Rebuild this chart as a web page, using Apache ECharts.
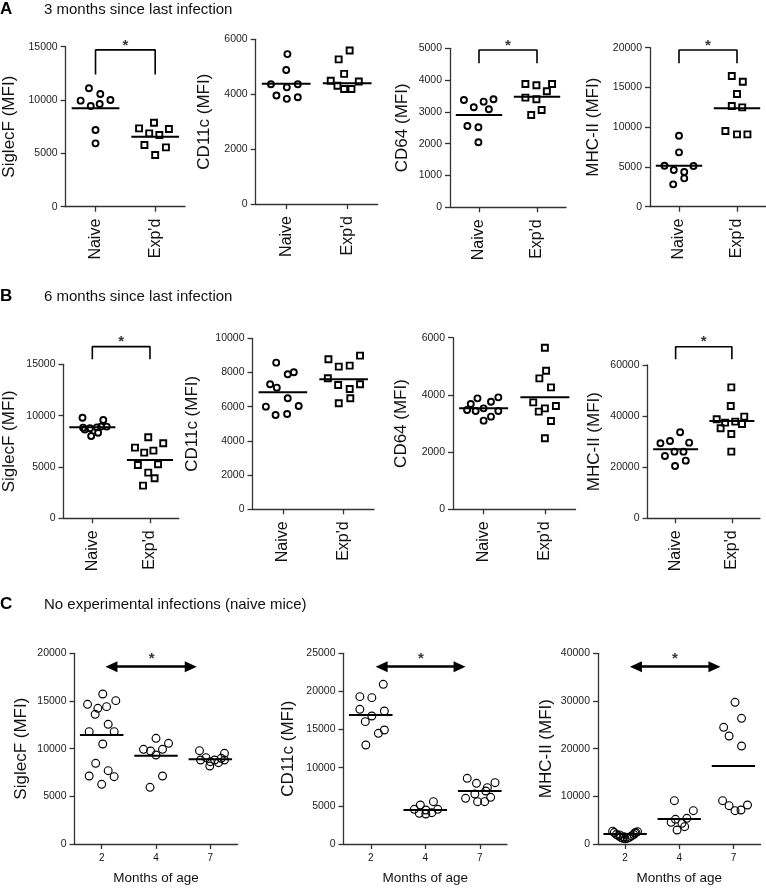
<!DOCTYPE html>
<html><head><meta charset="utf-8">
<script src="https://cdn.jsdelivr.net/npm/echarts@6/dist/echarts.min.js"></script>
<style>html,body{margin:0;padding:0;background:#fff}#c{width:766px;height:893px}</style>
</head><body><div id="c"></div>
<script>
const FONT = '"Liberation Sans", Arial, sans-serif';

// ---------- categories ----------
const catsAB = ["Naive", "Exp'd"];
const catsC = ["2", "4", "7"];

// ---------- panel A: 3 months since last infection ----------
const A1_naive = [11100, 10560, 9940, 10000, 9440, 9625, 7190, 5940];
const A1_naive_x = [-0.11, 0.08, -0.25, 0.25, -0.08, 0.07, 0, 0];
const A1_exp = [7340, 7875, 7280, 6875, 6720, 5780, 5560, 4840];
const A1_exp_x = [-0.27, -0.02, 0.23, -0.10, 0.07, -0.18, 0.18, 0];
const A1_means = [9220, 6560];

const A2_naive = [5460, 4880, 4360, 4250, 4360, 3950, 3830, 3890];
const A2_naive_x = [0.02, 0, -0.25, 0.01, 0.19, -0.16, 0.01, 0.19];
const A2_exp = [5590, 5270, 4740, 4490, 4460, 4310, 4190, 4190];
const A2_exp_x = [0.04, -0.14, -0.05, -0.27, 0.19, -0.16, -0.05, 0.07];
const A2_means = [4385, 4397];

const A3_naive = [3375, 3145, 3323, 3396, 3082, 2558, 2516, 2044];
const A3_naive_x = [-0.26, -0.09, 0.08, 0.25, 0.17, -0.2, -0.01, -0.01];
const A3_exp = [3878, 3836, 3878, 3648, 3449, 3396, 3061, 2904];
const A3_exp_x = [-0.2, -0.01, 0.26, 0.17, -0.2, -0.01, 0.08, -0.1];
const A3_means = [2904, 3480];

const A4_naive = [8930, 6834, 5157, 5115, 4612, 4361, 3564, 2809];
const A4_naive_x = [0, 0, -0.25, 0.25, -0.09, 0.09, 0.09, -0.1];
const A4_exp = [16436, 15723, 14172, 12662, 12495, 9518, 9099, 9099];
const A4_exp_x = [-0.09, 0.1, 0, -0.09, 0.09, -0.2, 0, 0.18];
const A4_means = [5157, 12369];

// ---------- panel B: 6 months since last infection ----------
const B1_naive = [9800, 9580, 8830, 8770, 8860, 8930, 8930, 8020, 8340, 8650];
const B1_naive_x = [-0.17, 0.19, -0.16, -0.04, 0.08, 0.15, 0.25, -0.02, 0.1, -0.13];
const B1_exp = [7890, 6883, 7305, 6396, 6591, 5195, 5260, 4448, 3896, 3182];
const B1_exp_x = [-0.03, -0.26, 0.23, -0.1, 0.06, -0.21, 0.14, -0.03, 0.08, -0.12];
const B1_means = [8864, 5682];

const B2_naive = [8577, 8012, 7895, 7310, 7115, 6491, 6004, 6043, 5517, 5575];
const B2_naive_x = [-0.11, 0.18, 0.08, -0.21, -0.1, 0.08, -0.28, 0.26, -0.12, 0.07];
const B2_exp = [8986, 8772, 8343, 8402, 7661, 7271, 7310, 7037, 6491, 6199];
const B2_exp_x = [0.27, -0.25, -0.08, 0.1, -0.26, -0.09, 0.27, 0.1, 0.11, -0.08];
const B2_means = [6842, 7602];

const B3_naive = [3880, 3915, 3681, 3763, 3472, 3437, 3530, 3437, 3099, 3239];
const B3_naive_x = [-0.1, 0.24, -0.21, 0.12, -0.27, -0.13, 0, 0.24, 0, 0.12];
const B3_exp = [5651, 4847, 4579, 4264, 3740, 3612, 3530, 3414, 3088, 2482];
const B3_exp_x = [0, 0.02, -0.09, 0.1, -0.19, 0.18, 0, -0.1, 0.1, 0];
const B3_means = [3530, 3915];

const B4_naive = [33650, 29350, 30260, 29610, 24390, 26090, 26090, 22570, 20480];
const B4_naive_x = [0.08, -0.27, -0.1, 0.24, -0.19, -0.02, 0.14, 0.18, -0.01];
const B4_exp = [51260, 43960, 38740, 37430, 37830, 39780, 36910, 35220, 33000, 26090];
const B4_exp_x = [-0.01, -0.02, -0.27, -0.12, 0.06, 0.22, 0.18, -0.2, -0.01, -0.01];
const B4_means = [27000, 38090];

// ---------- panel C: naive mice by age ----------
const C1_m2 = [15734, 14650, 15035, 14231, 14406, 13601, 12552, 11783, 11783, 10490, 8462, 7692, 7133, 7063, 6259];
const C1_m2_x = [0.02, -0.26, 0.26, -0.07, 0.09, -0.12, 0.12, -0.23, 0.23, 0.02, -0.11, 0.12, -0.23, 0.23, 0];
const C1_m4 = [11084, 10559, 9930, 9755, 9930, 9336, 7133, 5944];
const C1_m4_x = [0, 0.23, -0.23, -0.1, 0.12, 0, 0.12, -0.11];
const C1_m7 = [9790, 9510, 9056, 8811, 8811, 8986, 8811, 8531, 8636, 8182];
const C1_m7_x = [-0.2, 0.26, -0.08, -0.18, 0.08, 0.2, 0.26, 0.15, 0, -0.01];
const C1_means = [11434, 9266, 8881];

const C2_m2 = [20935, 19318, 19187, 17657, 17439, 16783, 16040, 14510, 14948, 12981];
const C2_m2_x = [0.23, -0.2, 0.02, -0.2, 0.25, 0.02, -0.1, 0.14, 0.25, -0.09];
const C2_m4 = [5551, 5114, 4545, 4545, 4458, 4021, 3934, 4108];
const C2_m4_x = [0.15, -0.09, -0.2, 0.23, 0.01, -0.11, 0.01, 0.12];
const C2_m7 = [8610, 7955, 8042, 7386, 6556, 5988, 6119, 5551, 5551, 6949];
const C2_m7_x = [-0.23, -0.06, 0.28, 0.14, -0.09, -0.26, 0.2, -0.04, 0.09, 0.11];
const C2_means = [16914, 4458, 6949];

const C3_m2 = [2700, 2400, 2000, 1700, 1400, 1200, 1100, 1200, 1400, 1700, 2000, 2400, 2600, 1500, 1900, 2300];
const C3_m2_x = [-0.23, -0.2, -0.16, -0.12, -0.08, -0.04, 0, 0.04, 0.08, 0.12, 0.16, 0.2, 0.23, -0.02, -0.1, 0.18];
const C3_m4 = [9091, 6993, 5175, 5385, 4545, 4336, 3636, 2937];
const C3_m4_x = [-0.09, 0.26, -0.07, 0.14, -0.15, 0.05, 0.1, -0.04];
const C3_m7 = [29720, 26364, 24476, 22657, 20559, 9091, 8042, 6993, 7133, 8182];
const C3_m7_x = [0.03, 0.15, -0.18, -0.08, 0.15, -0.2, -0.08, 0.03, 0.14, 0.26];
const C3_means = [2098, 5245, 16364];

// ---------- y axes (name, max, interval) ----------
const yNames = ["SiglecF (MFI)", "CD11c (MFI)", "CD64 (MFI)", "MHC-II (MFI)"];
const yMaxA = [15000, 6000, 5000, 20000];
const yIntA = [5000, 2000, 1000, 5000];
const yMaxB = [15000, 10000, 6000, 60000];
const yIntB = [5000, 2000, 2000, 20000];
const yMaxC = [20000, 25000, 40000];
const yIntC = [5000, 5000, 10000];

// ---------- significance marks (data units) ----------
// brackets: [bottom, top, star]
const A1_sig = [12400, 14700, 15470];
const A3_sig = [4528, 4948, 5210];
const A4_sig = [18029, 19706, 20750];
const B1_sig = [15490, 16720, 17530];
const B4_sig = [62220, 67170, 70430];
// arrows: [xFrom, xTo, y, starX, starY]
const C1_sig = [0.18, 1.64, 18600, 0.92, 19820];
const C2_sig = [0.2, 1.63, 23245, 0.92, 24775];
const C3_sig = [0.2, 1.65, 37190, 0.92, 39640];

// ---------- titles ----------
const panelLetters = ["A", "B", "C"];
const panelTitles = ["3 months since last infection", "6 months since last infection", "No experimental infections (naive mice)"];
const xNameC = "Months of age";

// ---------- panel assembly ----------
const panels = [
  {key:'A1', cats:catsAB, yName:yNames[0], yMax:yMaxA[0], yInt:yIntA[0], groups:[[A1_naive,A1_naive_x],[A1_exp,A1_exp_x]], means:A1_means, bracket:A1_sig},
  {key:'A2', cats:catsAB, yName:yNames[1], yMax:yMaxA[1], yInt:yIntA[1], groups:[[A2_naive,A2_naive_x],[A2_exp,A2_exp_x]], means:A2_means},
  {key:'A3', cats:catsAB, yName:yNames[2], yMax:yMaxA[2], yInt:yIntA[2], groups:[[A3_naive,A3_naive_x],[A3_exp,A3_exp_x]], means:A3_means, bracket:A3_sig},
  {key:'A4', cats:catsAB, yName:yNames[3], yMax:yMaxA[3], yInt:yIntA[3], groups:[[A4_naive,A4_naive_x],[A4_exp,A4_exp_x]], means:A4_means, bracket:A4_sig},
  {key:'B1', cats:catsAB, yName:yNames[0], yMax:yMaxB[0], yInt:yIntB[0], groups:[[B1_naive,B1_naive_x],[B1_exp,B1_exp_x]], means:B1_means, bracket:B1_sig},
  {key:'B2', cats:catsAB, yName:yNames[1], yMax:yMaxB[1], yInt:yIntB[1], groups:[[B2_naive,B2_naive_x],[B2_exp,B2_exp_x]], means:B2_means},
  {key:'B3', cats:catsAB, yName:yNames[2], yMax:yMaxB[2], yInt:yIntB[2], groups:[[B3_naive,B3_naive_x],[B3_exp,B3_exp_x]], means:B3_means},
  {key:'B4', cats:catsAB, yName:yNames[3], yMax:yMaxB[3], yInt:yIntB[3], groups:[[B4_naive,B4_naive_x],[B4_exp,B4_exp_x]], means:B4_means, bracket:B4_sig},
  {key:'C1', cats:catsC, yName:yNames[0], yMax:yMaxC[0], yInt:yIntC[0], groups:[[C1_m2,C1_m2_x],[C1_m4,C1_m4_x],[C1_m7,C1_m7_x]], means:C1_means, arrow:C1_sig},
  {key:'C2', cats:catsC, yName:yNames[1], yMax:yMaxC[1], yInt:yIntC[1], groups:[[C2_m2,C2_m2_x],[C2_m4,C2_m4_x],[C2_m7,C2_m7_x]], means:C2_means, arrow:C2_sig},
  {key:'C3', cats:catsC, yName:yNames[3], yMax:yMaxC[2], yInt:yIntC[2], groups:[[C3_m2,C3_m2_x],[C3_m4,C3_m4_x],[C3_m7,C3_m7_x]], means:C3_means, arrow:C3_sig}
];

// layout (pixels)
const layout = {
  A1:{left:65.7, top:46.7, width:119.3, height:160, gap:47.5},
  A2:{left:255.7, top:39.3, width:122, height:164.7, gap:42.5},
  A3:{left:450, top:48.3, width:116, height:159, gap:39.5},
  A4:{left:650, top:47.7, width:116, height:159, gap:48.5},
  B1:{left:63.3, top:364.3, width:115.5, height:154, gap:45.5},
  B2:{left:252.5, top:338.3, width:121.5, height:171, gap:51.5},
  B3:{left:453, top:337.7, width:122.5, height:171.6, gap:43.5},
  B4:{left:647.5, top:365, width:112.5, height:153.3, gap:44.5},
  C1:{left:74.5, top:653.3, width:163, height:190.7, gap:44.5},
  C2:{left:343.5, top:653.3, width:163.5, height:190.7, gap:46.5},
  C3:{left:598, top:653.3, width:162.5, height:190.7, gap:43.5}
};

const AX = '#333';
const grid = [], xAxis = [], yAxis = [], series = [];

panels.forEach((p, i) => {
  const L = layout[p.key];
  const isC = p.cats === catsC;
  grid.push({left:L.left, top:L.top, width:L.width, height:L.height});
  xAxis.push({
    type:'category', gridIndex:i, data:p.cats, boundaryGap:true,
    axisLine:{show:true, onZero:false, lineStyle:{color:AX, width:1.3}},
    axisTick:{show:true, alignWithLabel:true, length:5, lineStyle:{color:AX, width:1.3}},
    axisLabel:{interval:0, rotate:isC?0:90, fontSize:isC?10:16, color:'#111', margin:isC?9:12, fontFamily:FONT},
    name:isC?xNameC:'', nameLocation:'middle', nameGap:27,
    nameTextStyle:{fontSize:13.5, color:'#111', fontFamily:FONT},
    splitLine:{show:false}
  });
  xAxis.push({type:'value', gridIndex:i, min:-0.5, max:p.cats.length-0.5, show:false,
    axisLine:{onZero:false}});
  yAxis.push({
    type:'value', gridIndex:i, min:0, max:p.yMax, interval:p.yInt,
    name:p.yName, nameLocation:'middle', nameGap:L.gap,
    nameTextStyle:{fontSize:17, color:'#111', fontFamily:FONT},
    axisLine:{show:true, onZero:false, lineStyle:{color:AX, width:1.3}},
    axisTick:{show:true, length:5, lineStyle:{color:AX, width:1.3}},
    axisLabel:{fontSize:10.5, color:'#222', margin:8, fontFamily:FONT, formatter:(v) => String(v)},
    splitLine:{show:false}
  });
  const xi = 2*i + 1;
  p.groups.forEach(([vals, offs], g) => {
    const shape = (!isC && g === 1) ? 'rect' : 'circle';
    series.push({
      type:'scatter', xAxisIndex:xi, yAxisIndex:i, silent:true, z:3,
      symbol:shape, symbolSize:isC?7.8:6,
      itemStyle:{color:'rgba(255,255,255,0)', borderColor:'#000', borderWidth:isC?1.15:1.9, opacity:1},
      data: vals.map((v, k) => [g + offs[k], v])
    });
    series.push({
      type:'line', xAxisIndex:xi, yAxisIndex:i, silent:true, z:4,
      symbol:'none', showSymbol:false,
      lineStyle:{color:'#000', width:2},
      data:[[g - 0.4, p.means[g]], [g + 0.4, p.means[g]]]
    });
  });
  if (p.bracket) {
    const [lo, hi, st] = p.bracket;
    series.push({
      type:'line', xAxisIndex:xi, yAxisIndex:i, silent:true, clip:false, z:5,
      symbol:'none', showSymbol:false, lineStyle:{color:'#000', width:1.6},
      data:[[0, lo], [0, hi], [1, hi], [1, lo]]
    });
    series.push({
      type:'scatter', xAxisIndex:xi, yAxisIndex:i, silent:true, clip:false, z:5,
      symbolSize:1, itemStyle:{color:'rgba(0,0,0,0)'},
      label:{show:true, position:'inside', formatter:'*', fontSize:15, fontWeight:'bold', color:'#000', offset:[0,4], fontFamily:FONT},
      data:[[0.5, st]]
    });
  }
  if (p.arrow) {
    const [x1, x2, y, sx, sy] = p.arrow;
    series.push({
      type:'scatter', xAxisIndex:xi, yAxisIndex:i, silent:true, clip:false, z:5,
      symbolSize:1, itemStyle:{color:'rgba(0,0,0,0)'},
      label:{show:true, position:'inside', formatter:'*', fontSize:15, fontWeight:'bold', color:'#000', offset:[0,4], fontFamily:FONT},
      data:[[sx, sy]],
      markLine:{
        silent:true, animation:false,
        symbol:['triangle','triangle'], symbolSize:[11, 12],
        lineStyle:{color:'#000', width:2.5, type:'solid'},
        label:{show:false},
        data:[[{coord:[x1, y]}, {coord:[x2, y]}]]
      }
    });
  }
});

const titleTops = [1, 288, 596];
const title = [];
panelLetters.forEach((t, k) => {
  title.push({text:t, left:0, top:titleTops[k], padding:0,
    textStyle:{fontSize:17, fontWeight:'bold', color:'#000', fontFamily:FONT}});
  title.push({text:panelTitles[k], left:44, top:titleTops[k]+1, padding:0,
    textStyle:{fontSize:15, fontWeight:'normal', color:'#111', fontFamily:FONT}});
});

const chart = echarts.init(document.getElementById('c'), null, {renderer:'canvas'});
chart.setOption({
  animation:false,
  backgroundColor:'#fff',
  textStyle:{fontFamily:FONT},
  title, grid, xAxis, yAxis, series
});
</script>
</body></html>
